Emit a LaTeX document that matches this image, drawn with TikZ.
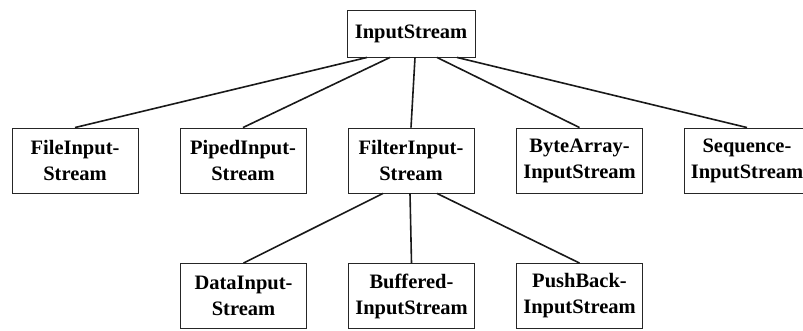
\documentclass[tikz,border=0pt]{standalone}
\usepackage{fontspec}
\setmainfont{Liberation Serif}
\usetikzlibrary{calc}
\begin{document}
\begin{tikzpicture}[x=1pt,y=-1pt,
  cls/.style={draw=black!85, line width=0.9pt, rectangle, minimum width=126pt, minimum height=65pt,
    inner sep=0pt, align=center, font=\fontsize{20.5}{26}\selectfont\bfseries},
  link/.style={draw=black!90, line width=1.6pt}]
\useasboundingbox (0,0) rectangle (803,331);
\node[cls, minimum width=128pt, minimum height=47pt] (top) at (411,33.5) {InputStream};
\node[cls] (file) at (75,160.5) {FileInput-\\Stream};
\node[cls] (piped) at (243,160.5) {PipedInput-\\Stream};
\node[cls] (filter) at (411,160.5) {FilterInput-\\Stream};
\node[cls] (bytearr) at (579.5,160.5) {ByteArray-\\InputStream};
\node[cls] (seq) at (747,160.5) {Sequence-\\InputStream};
\node[cls] (data) at (243.5,296) {DataInput-\\Stream};
\node[cls] (buff) at (411.5,296) {Buffered-\\InputStream};
\node[cls] (push) at (579.5,296) {PushBack-\\InputStream};
\draw[link] ($(top.south)+(-44,0)$) -- (file.north);
\draw[link] ($(top.south)+(-21,0)$) -- (piped.north);
\draw[link] ($(top.south)+(4,0)$) -- (filter.north);
\draw[link] ($(top.south)+(26,0)$) -- (bytearr.north);
\draw[link] ($(top.south)+(46,0)$) -- (seq.north);
\draw[link] ($(filter.south)+(-28,0)$) -- (data.north);
\draw[link] ($(filter.south)+(-1,0)$) -- (buff.north);
\draw[link] ($(filter.south)+(26,0)$) -- (push.north);
\end{tikzpicture}
\end{document}
